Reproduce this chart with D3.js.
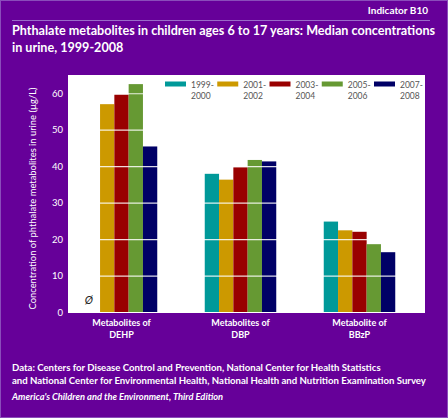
<!DOCTYPE html>
<html><head><meta charset="utf-8">
<script src="https://cdn.jsdelivr.net/npm/d3@7/dist/d3.min.js"></script>
<style>
html,body{margin:0;padding:0;background:#660099;}
svg{display:block;}
text{font-family:Lato,"Open Sans",sans-serif;}
</style></head>
<body>
<svg id="c" width="448" height="418"></svg>
<script>
const categories = ["Metabolites of|DEHP", "Metabolites of|DBP", "Metabolite of|BBzP"];
const periods = ["1999-2000", "2001-2002", "2003-2004", "2005-2006", "2007-2008"];
const periodLabels = [["1999-","2000"],["2001-","2002"],["2003-","2004"],["2005-","2006"],["2007-","2008"]];
const colors = ["#009999", "#CC9900", "#990000", "#669933", "#000066"];
const v1999 = [null, 37.9, 24.8];
const v2001 = [57.0, 36.3, 22.4];
const v2003 = [59.6, 39.7, 22.0];
const v2005 = [62.5, 41.7, 18.6];
const v2007 = [45.4, 41.3, 16.4];
const series = [v1999, v2001, v2003, v2005, v2007];
const yTicks = [0, 10, 20, 30, 40, 50, 60];

const svg = d3.select("#c");
const W = 448, H = 418;
svg.append("rect").attr("x",0.5).attr("y",0.5).attr("width",W-1).attr("height",H-1)
  .attr("fill","#660099").attr("stroke","#8a4dbb").attr("stroke-width",1);

// header
svg.append("text").attr("x",428).attr("y",14).attr("text-anchor","end")
  .attr("fill","#fff").attr("font-weight","bold").attr("font-size",10).text("Indicator B10");
svg.append("line").attr("x1",12).attr("x2",430).attr("y1",20.5).attr("y2",20.5)
  .attr("stroke","#9a6bc8").attr("stroke-width",1);
svg.append("text").attr("x",12).attr("y",35).attr("fill","#fff").attr("font-weight","bold")
  .attr("font-size",12.6).text("Phthalate metabolites in children ages 6 to 17 years: Median concentrations");
svg.append("text").attr("x",12).attr("y",52).attr("fill","#fff").attr("font-weight","bold")
  .attr("font-size",12.6).text("in urine, 1999-2008");

// plot
const plotL = 68, plotR = 425, plotT = 75, plotB = 312;
svg.append("rect").attr("x",plotL).attr("y",plotT).attr("width",plotR-plotL).attr("height",plotB-plotT+1).attr("fill","#fff");

const y = d3.scaleLinear().domain([0,65]).range([plotB, plotT]);
const x0 = d3.scaleBand().domain(categories).range([62, 419]);
const x1 = d3.scaleBand().domain(periods).range([0, 71.5]);

const g = svg.append("g");
series.forEach((vals, si) => {
  g.selectAll(null).data(vals.map((v,i)=>({v, c:categories[i]})).filter(d=>d.v!=null))
    .enter().append("rect")
    .attr("x", d => x0(d.c) + x0.bandwidth()/2 - 35.75 + x1(periods[si]))
    .attr("width", x1.bandwidth())
    .attr("y", d => y(d.v))
    .attr("height", d => plotB - y(d.v))
    .attr("fill", colors[si]);
});

// missing marker
svg.append("text").attr("x", x0(categories[0]) + x0.bandwidth()/2 - 35.75 + x1(periods[0]) + x1.bandwidth()/2 - 4)
  .attr("y", 304).attr("text-anchor","middle").attr("font-size",11).attr("font-style","italic")
  .attr("fill","#222").text("Ø");

// gridlines on top
const yAxis = d3.axisLeft(y).tickValues(yTicks).tickSize(-(plotR-plotL)).tickPadding(6);
const ag = svg.append("g").attr("transform",`translate(${plotL},0)`).call(yAxis);
ag.select(".domain").remove();
ag.selectAll(".tick line").attr("stroke","#fff").attr("stroke-opacity",0.85).attr("stroke-width",1.2)
  .filter(d=>d===0).remove();
ag.selectAll(".tick text").attr("fill","#fff").attr("font-size",9.5).attr("font-family","Lato,sans-serif")
  .attr("x",-5);

// y label
svg.append("text").attr("transform",`translate(36,${(plotT+plotB)/2 + 5}) rotate(-90)`)
  .attr("text-anchor","middle").attr("fill","#fff").attr("font-size",9.4)
  .text("Concentration of phthalate metabolites in urine (µg/L)");

// category labels
categories.forEach(c => {
  const [a,b] = c.split("|");
  const cx = x0(c) + x0.bandwidth()/2;
  const t = svg.append("text").attr("x",cx).attr("y",326).attr("text-anchor","middle")
    .attr("fill","#fff").attr("font-size",9).attr("font-weight","bold");
  t.append("tspan").attr("x",cx).text(a);
  t.append("tspan").attr("x",cx).attr("dy",12).text(b);
});

// legend
const legX = d3.scalePoint().domain(periods).range([165, 374]);
periods.forEach((p,i) => {
  const lx = legX(p);
  svg.append("rect").attr("x",lx).attr("y",81.5).attr("width",21).attr("height",5).attr("fill",colors[i]);
  const t = svg.append("text").attr("x",lx+26).attr("y",87.5).attr("fill","#555").attr("font-size",8.5);
  t.append("tspan").attr("x",lx+26).text(periodLabels[i][0]);
  t.append("tspan").attr("x",lx+26).attr("dy",11).text(periodLabels[i][1]);
});

// footer
svg.append("text").attr("x",12).attr("y",371).attr("fill","#fff").attr("font-weight","bold").attr("font-size",9.6)
  .text("Data: Centers for Disease Control and Prevention, National Center for Health Statistics");
svg.append("text").attr("x",12).attr("y",384).attr("fill","#fff").attr("font-weight","bold").attr("font-size",9.6)
  .text("and National Center for Environmental Health, National Health and Nutrition Examination Survey");
svg.append("text").attr("x",12).attr("y",400).attr("fill","#fff").attr("font-weight","bold").attr("font-style","italic").attr("font-size",9.3)
  .text("America's Children and the Environment, Third Edition");
</script>
</body></html>
